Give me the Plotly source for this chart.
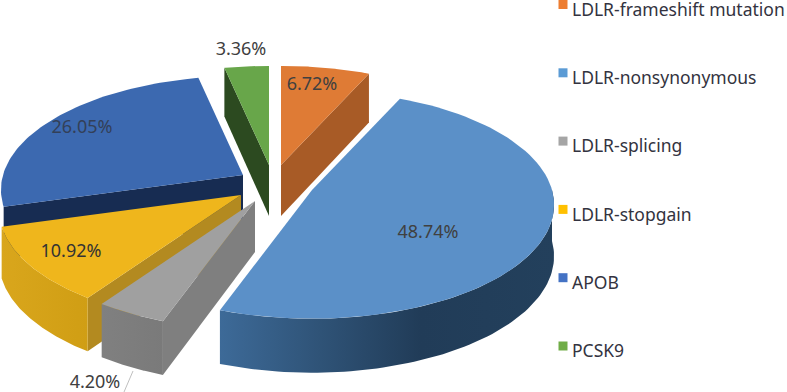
import numpy as np
import plotly.graph_objects as go

categories = ["LDLR-frameshift mutation", "LDLR-nonsynonymous", "LDLR-splicing",
              "LDLR-stopgain", "APOB", "PCSK9"]
percentages = [6.72, 48.74, 4.20, 10.92, 26.05, 3.36]

legend_colors = ["#ED7D31", "#5B9BD5", "#A5A5A5", "#FFC000", "#4472C4", "#70AD47"]
top_colors = ["#DF7B35", "#5B90C8", "#A0A0A0", "#EFB61C", "#3C69B0", "#68A64A"]
wall_colors = ["#A85B26", "#2C4E70", "#7F7F7F", "#B38A20", "#172C52", "#2C4A20"]
rim_scales = {
    1: [[0, "#3D6A98"], [0.3, "#2F5377"], [0.6, "#213C58"], [1, "#23405C"]],
    2: [[0, "#808080"], [1, "#7A7A7A"]],
    3: [[0, "#D9A61C"], [1, "#D09E14"]],
}
# exploded position of each slice's tip on the page
apex = [(281, 165), (312, 190), (255, 201), (241, 195), (243, 175), (269, 165)]
label_pos = [(312, 85), (428, 233), (95, 383), (71, 252), (82, 128), (241, 50)]
label_colors = ["#404040", "#404040", "#404040", "#333333", "#334058", "#404040"]
draw_order = [5, 0, 4, 3, 2, 1]

RX, RY, PERSP, DEPTH = 240, 112, 0.13, 51
FONT = "Noto Sans"
LEGEND_X, LEGEND_TEXT_X, LEGEND_Y0, LEGEND_STEP = 563, 572, 4.5, 68.3

total = sum(percentages)
edges = np.concatenate([[0], np.cumsum(percentages)]) / total * 2 * np.pi


def project(i, th, drop=False):
    u, v = np.sin(th), np.cos(th)
    s = 1 / (1 + PERSP * v)
    x = apex[i][0] + RX * u * s
    y = apex[i][1] - RY * v * s
    if drop:
        y = y + DEPTH * s ** 0.4
    return x, y


def poly(x, y, color=None, gradient=None):
    tr = dict(x=list(x), y=list(y), mode="lines", fill="toself", line=dict(width=0),
              showlegend=False, hoverinfo="skip")
    if gradient:
        tr["fillgradient"] = dict(type="horizontal", colorscale=gradient)
    else:
        tr["fillcolor"] = color
    return go.Scatter(**tr)


def wall(i, th):
    x1, y1 = project(i, th)
    x2, y2 = project(i, th, True)
    ax, ay = apex[i]
    return poly([ax, x1, x2, ax, ax], [ay, y1, y2, ay + DEPTH, ay], wall_colors[i])


fig = go.Figure()
for i in draw_order:
    a, b = edges[i], edges[i + 1]
    if i == 0:
        fig.add_trace(wall(i, b))
    if i in (2, 3, 4, 5):
        fig.add_trace(wall(i, a))
    if i in rim_scales:
        t = np.linspace(max(a, np.pi / 2), b, 80)
        x1, y1 = project(i, t)
        x2, y2 = project(i, t[::-1], True)
        fig.add_trace(poly(np.r_[x1, x2, x1[0]], np.r_[y1, y2, y1[0]], gradient=rim_scales[i]))
    t = np.linspace(a, b, 80)
    x, y = project(i, t)
    ax, ay = apex[i]
    fig.add_trace(poly(np.r_[ax, x, ax], np.r_[ay, y, ay], top_colors[i]))

# leader line of the small slice's label
fig.add_trace(go.Scatter(x=[133, 124], y=[371, 392], mode="lines",
                         line=dict(color="#BFBFBF", width=1), showlegend=False, hoverinfo="skip"))

fig.add_trace(go.Scatter(
    x=[p[0] for p in label_pos], y=[p[1] for p in label_pos], mode="text",
    text=[f"{v:.2f}%" for v in percentages],
    textfont=dict(family=FONT, size=18, color=label_colors),
    textposition="middle center", showlegend=False, hoverinfo="skip"))

ly = [LEGEND_Y0 + LEGEND_STEP * k for k in range(len(categories))]
fig.add_trace(go.Scatter(x=[LEGEND_X] * len(categories), y=ly, mode="markers",
                         marker=dict(symbol="square", size=9, color=legend_colors),
                         showlegend=False, hoverinfo="skip"))
fig.add_trace(go.Scatter(x=[LEGEND_TEXT_X] * len(categories), y=[v + 7 for v in ly], mode="text",
                         text=categories, textposition="middle right",
                         textfont=dict(family=FONT, size=17.5, color="#333340"),
                         showlegend=False, hoverinfo="skip"))

fig.update_layout(
    width=787, height=392, margin=dict(l=0, r=0, t=0, b=0),
    paper_bgcolor="white", plot_bgcolor="white", showlegend=False,
    xaxis=dict(range=[0, 787], visible=False, fixedrange=True),
    yaxis=dict(range=[392, 0], visible=False, fixedrange=True),
)
fig.write_html("out.html", config={"displayModeBar": False},
               post_script="document.body.style.margin='0';document.documentElement.style.overflow='hidden';")
